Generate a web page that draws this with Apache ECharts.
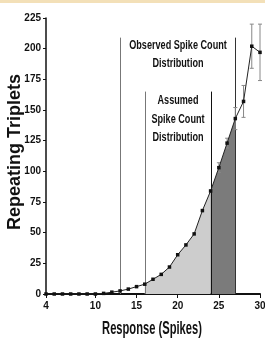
<!DOCTYPE html>
<html>
<head>
<meta charset="utf-8">
<script src="https://cdn.jsdelivr.net/npm/echarts@6/dist/echarts.min.js"></script>
<style>
  html, body { margin: 0; padding: 0; background: #fff; }
  #main { width: 265px; height: 342px; }
</style>
</head>
<body>
<div id="main"></div>
<script>
// spike counts and repeating triplets
const spikes = [4, 5, 6, 7, 8, 9, 10, 11, 12, 13, 14, 15, 16, 17, 18, 19, 20, 21, 22, 23, 24, 25, 26, 27, 28, 29, 30];
const triplets = [0, 0, 0, 0, 0, 0, 0, 0.5, 1.5, 2.5, 4, 6, 8, 12, 16, 22, 32, 40, 49, 68, 84, 103, 123, 143, 157, 202, 197];
// error bars (x, half width)
const errX = [25, 26, 27, 28, 29, 30];
const errHalf = [4, 4, 9, 13, 18, 23];
const xTicks = [4, 10, 15, 20, 25, 30];
// distribution boundaries
const observedRange = [13, 27];
const assumedRange = [16, 24];
const observedTop = 209;
const assumedTop = 165;

const FONT = "'Liberation Sans', Arial, sans-serif";

const pts = spikes.map((x, i) => [x, triplets[i]]);
const between = (a, b) => pts.filter(p => p[0] >= a && p[0] <= b);
const errData = errX.map((x, i) => {
  const y = triplets[spikes.indexOf(x)];
  return [x, y - errHalf[i], y + errHalf[i]];
});

const vlines = [
  { x: observedRange[0], top: observedTop, color: '#777' },
  { x: assumedRange[0], top: assumedTop, color: '#777' },
  { x: assumedRange[1], top: assumedTop, color: '#111' },
  { x: observedRange[1], top: observedTop, color: '#333' }
];

// condensed look: the narrow font is not installed, so squeeze the text
function label(text, x, y, size, sx, lh, rot) {
  return {
    type: 'text', x: x, y: y, scaleX: sx, rotation: rot || 0,
    style: {
      text: text, x: 0, y: 0, font: 'bold ' + size + 'px ' + FONT, fill: '#111',
      align: 'center', verticalAlign: 'middle', lineHeight: lh || size
    }
  };
}

var myChart = echarts.init(document.getElementById('main'), null, { renderer: 'canvas' });

const option = {
  animation: false,
  backgroundColor: '#fff',
  grid: { left: 46, right: 5, top: 18, bottom: 48, containLabel: false, outerBoundsMode: 'none' },
  xAxis: {
    type: 'value',
    min: 4,
    max: 30,
    axisLine: { lineStyle: { color: '#111', width: 2 } },
    axisTick: { show: true, length: 4, customValues: xTicks, lineStyle: { color: '#111' } },
    axisLabel: { customValues: xTicks, margin: 7, fontFamily: FONT, fontWeight: 'bold', fontSize: 10, color: '#111' },
    splitLine: { show: false }
  },
  yAxis: {
    type: 'value',
    min: 0,
    max: 225,
    interval: 25,
    axisLine: { show: true, lineStyle: { color: '#111', width: 1.5 } },
    axisTick: { show: true, length: 3, lineStyle: { color: '#111' } },
    axisLabel: { margin: 5, fontFamily: FONT, fontWeight: 'bold', fontSize: 10, color: '#111' },
    splitLine: { show: false }
  },
  graphic: [
    { type: 'rect', shape: { x: 0, y: 0, width: 265, height: 3 }, style: { fill: '#f3e0b8' } },
    label('Observed Spike Count\nDistribution', 178, 54, 13, 0.7, 18),
    label('Assumed\nSpike Count\nDistribution', 178, 119, 13, 0.7, 18.5),
    label('Response (Spikes)', 152, 329, 18, 0.62),
    label('Repeating Triplets', 15, 152, 18, 1, 18, Math.PI / 2)
  ],
  series: [
    {
      type: 'line',
      data: between(assumedRange[0], assumedRange[1]),
      symbol: 'none',
      lineStyle: { width: 0 },
      areaStyle: { color: '#cdcdcd', opacity: 1 },
      z: 1
    },
    {
      type: 'line',
      data: between(assumedRange[1], observedRange[1]),
      symbol: 'none',
      lineStyle: { width: 0 },
      areaStyle: { color: '#7b7b7b', opacity: 1 },
      z: 1
    },
    {
      type: 'custom',
      data: vlines.map(v => [v.x, v.top]),
      renderItem: function (params, api) {
        const v = vlines[params.dataIndex];
        const p0 = api.coord([api.value(0), 0]);
        const p1 = api.coord([api.value(0), api.value(1)]);
        return {
          type: 'line',
          shape: { x1: Math.round(p0[0]) + 0.5, y1: p0[1], x2: Math.round(p1[0]) + 0.5, y2: p1[1] },
          style: { stroke: v.color, lineWidth: 1 }
        };
      },
      z: 2
    },
    {
      type: 'custom',
      data: errData,
      renderItem: function (params, api) {
        const lo = api.coord([api.value(0), api.value(1)]);
        const hi = api.coord([api.value(0), api.value(2)]);
        const c = 2;
        const s = { stroke: '#888', lineWidth: 1 };
        return {
          type: 'group',
          children: [
            { type: 'line', shape: { x1: lo[0], y1: lo[1], x2: hi[0], y2: hi[1] }, style: s },
            { type: 'line', shape: { x1: lo[0] - c, y1: lo[1], x2: lo[0] + c, y2: lo[1] }, style: s },
            { type: 'line', shape: { x1: hi[0] - c, y1: hi[1], x2: hi[0] + c, y2: hi[1] }, style: s }
          ]
        };
      },
      z: 3
    },
    {
      type: 'line',
      data: pts,
      symbol: 'rect',
      symbolSize: 3.5,
      lineStyle: { color: '#222', width: 1 },
      itemStyle: { color: '#111' },
      z: 4
    }
  ]
};

myChart.setOption(option);
</script>
</body>
</html>
